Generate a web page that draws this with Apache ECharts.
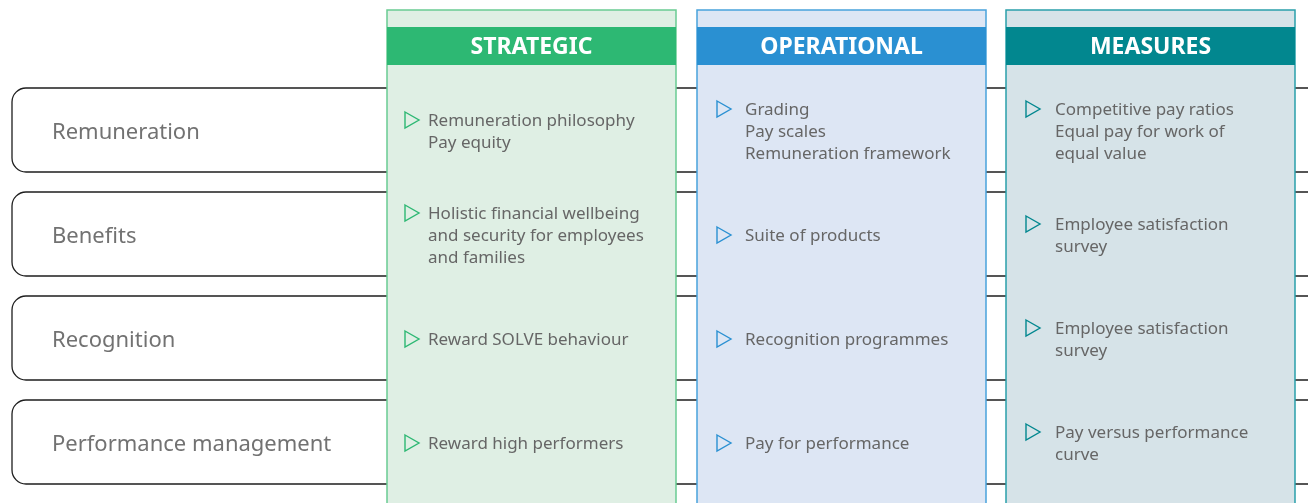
<!DOCTYPE html>
<html><head><meta charset="utf-8">
<script src="https://cdn.jsdelivr.net/npm/echarts@6/dist/echarts.min.js"></script>
<style>html,body{margin:0;padding:0;background:#fff}#c{width:1308px;height:503px}</style>
</head><body><div id="c"></div>
<script>
// ---- data ----
const rowLabels = ['Remuneration', 'Benefits', 'Recognition', 'Performance management'];
const columnTitles = ['STRATEGIC', 'OPERATIONAL', 'MEASURES'];
const strategicItems = [
  'Remuneration philosophy\nPay equity',
  'Holistic financial wellbeing\nand security for employees\nand families',
  'Reward SOLVE behaviour',
  'Reward high performers'
];
const operationalItems = [
  'Grading\nPay scales\nRemuneration framework',
  'Suite of products',
  'Recognition programmes',
  'Pay for performance'
];
const measuresItems = [
  'Competitive pay ratios\nEqual pay for work of\nequal value',
  'Employee satisfaction\nsurvey',
  'Employee satisfaction\nsurvey',
  'Pay versus performance\ncurve'
];

// ---- layout / style ----
const W = 1308, H = 503;
const rowTop0 = 88, rowStep = 104, rowH = 84, rowLeft = 12;
const colLeft = [387, 697, 1006], colW = 289, colTop = 10, headTop = 27, headH = 38;
const triOff = [18, 20, 20], textOff = [41, 48, 49];
const colHead = ['#2db873', '#2a90d2', '#02878f'];
const colBorder = ['#6acc92', '#48a3dc', '#2aa0ab'];
const colFill = ['#dfefe4', '#dde6f4', '#d6e3e8'];
const textColor = '#666666';
const font = '"Noto Sans", "Open Sans", sans-serif';
const lineH = 22;

const columns = [strategicItems, operationalItems, measuresItems];
const cells = [];
columns.forEach((items, c) => items.forEach((t, r) => cells.push([c, r, t])));

const chart = echarts.init(document.getElementById('c'), null, {renderer: 'canvas'});
chart.setOption({
  animation: false,
  grid: {left: 0, right: 0, top: 0, bottom: 0},
  xAxis: {type: 'value', min: 0, max: W, show: false},
  yAxis: {type: 'value', min: 0, max: H, inverse: true, show: false},
  series: [
    {
      type: 'custom', z: 1,
      data: rowLabels.map((l, i) => [i, l]),
      renderItem: (params, api) => {
        const i = api.value(0);
        const p0 = api.coord([rowLeft, rowTop0 + rowStep * i]);
        const p1 = api.coord([W + 20, rowTop0 + rowStep * i + rowH]);
        return {type: 'group', children: [
          {type: 'rect', shape: {x: p0[0], y: p0[1], width: p1[0] - p0[0], height: p1[1] - p0[1], r: [14, 0, 0, 14]},
           style: {fill: '#fff', stroke: '#1e1e1e', lineWidth: 1.3}},
          {type: 'text', style: {text: rowLabels[i], x: p0[0] + 40, y: (p0[1] + p1[1]) / 2 + 3,
            verticalAlign: 'middle', align: 'left', fill: '#727272', font: '22px ' + font}}
        ]};
      }
    },
    {
      type: 'custom', z: 2,
      data: columnTitles.map((t, i) => [i, t]),
      renderItem: (params, api) => {
        const c = api.value(0);
        const p0 = api.coord([colLeft[c], colTop]);
        const p1 = api.coord([colLeft[c] + colW, H + 20]);
        const h0 = api.coord([colLeft[c], headTop]);
        const h1 = api.coord([colLeft[c] + colW, headTop + headH]);
        return {type: 'group', children: [
          {type: 'rect', shape: {x: p0[0], y: p0[1], width: p1[0] - p0[0], height: p1[1] - p0[1]},
           style: {fill: colFill[c], stroke: colBorder[c], lineWidth: 1.5}},
          {type: 'rect', shape: {x: h0[0], y: h0[1], width: h1[0] - h0[0], height: h1[1] - h0[1]},
           style: {fill: colHead[c]}},
          {type: 'text', style: {text: columnTitles[c], x: (h0[0] + h1[0]) / 2, y: (h0[1] + h1[1]) / 2 + 1,
            align: 'center', verticalAlign: 'middle', fill: '#fff', font: 'bold 23px ' + font}}
        ]};
      }
    },
    {
      type: 'custom', z: 3,
      data: cells,
      renderItem: (params, api) => {
        const c = api.value(0), r = api.value(1);
        const text = cells[params.dataIndex][2];
        const n = text.split('\n').length;
        const cy = rowTop0 + rowStep * r + rowH / 2 + 2;
        const firstY = cy - (n - 1) * lineH / 2;
        const tp = api.coord([colLeft[c] + triOff[c], firstY - 1]);
        const xp = api.coord([colLeft[c] + textOff[c], cy]);
        return {type: 'group', children: [
          {type: 'polygon', shape: {points: [[tp[0], tp[1] - 8], [tp[0] + 14, tp[1]], [tp[0], tp[1] + 8]]},
           style: {fill: 'none', stroke: colHead[c], lineWidth: 1.4}},
          {type: 'text', style: {text: text, x: xp[0], y: xp[1], align: 'left', verticalAlign: 'middle',
            lineHeight: lineH, fill: textColor, font: '17px ' + font}}
        ]};
      }
    }
  ]
});
</script></body></html>
